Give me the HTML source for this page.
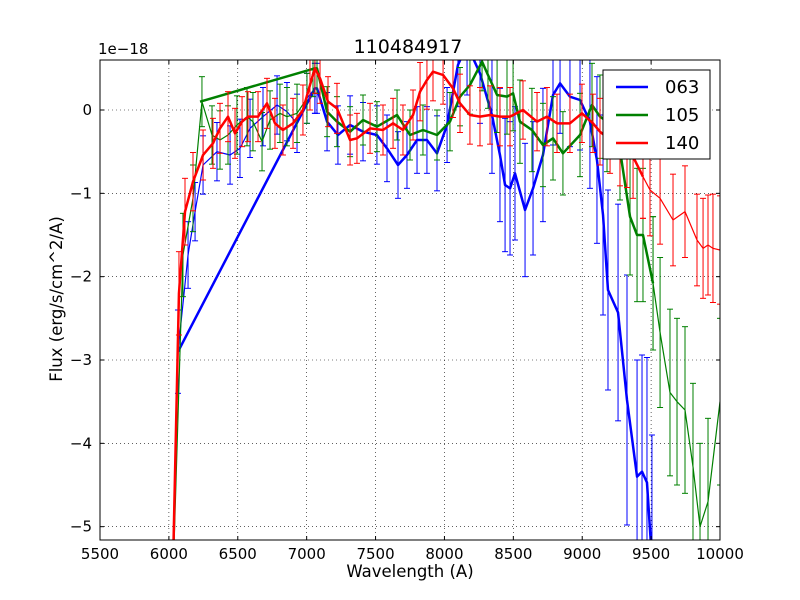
<!DOCTYPE html>
<html><head><meta charset="utf-8"><style>
html,body{margin:0;padding:0;background:#fff;overflow:hidden;width:800px;height:600px;}
svg{display:block;}
svg text{font-family:"DejaVu Sans","Liberation Sans",sans-serif;}
</style></head><body>
<svg id="chart" width="800" height="600" xmlns="http://www.w3.org/2000/svg">
<rect width="800" height="600" fill="#fff"/>
<defs><clipPath id="clip"><rect x="100" y="60" width="620" height="480"/></clipPath></defs>
<g id="grid"></g>
<g id="marks" clip-path="url(#clip)"></g>
<rect x="100" y="60" width="620" height="480" fill="none" stroke="#000" stroke-width="1"/>
<g id="ticks"></g>
<text x="408" y="53" font-size="19" text-anchor="middle">110484917</text>
<text x="98" y="54" font-size="15">1e−18</text>
<text x="410" y="577" font-size="16.5" text-anchor="middle">Wavelength (A)</text>
<text x="62" y="299" font-size="16.5" text-anchor="middle" transform="rotate(-90 62 299)">Flux (erg/s/cm^2/A)</text>
<g>
<rect x="603" y="70" width="107" height="89" fill="#fff" stroke="#000" stroke-width="1"/>
<g><line x1="616" y1="87" x2="648" y2="87" stroke="#0000ff" stroke-width="2.5"/><text x="665" y="93" font-size="18">063</text></g>
<g><line x1="616" y1="115" x2="648" y2="115" stroke="#008000" stroke-width="2.5"/><text x="665" y="121" font-size="18">105</text></g>
<g><line x1="616" y1="143" x2="648" y2="143" stroke="#ff0000" stroke-width="2.5"/><text x="665" y="149" font-size="18">140</text></g>
</g>
</svg>
<script>
const xTicks=[5500,6000,6500,7000,7500,8000,8500,9000,9500,10000];
const yTicks=[0,-1,-2,-3,-4,-5];
const yTickLabels=["0","−1","−2","−3","−4","−5"];

const blueThinX=[6023,6066,6139,6190,6248,6349,6444,6516,6589,6683,6785,6857,6930,7002,7060];
const blueThinY=[-6,-2.9,-1.74,-1.22,-0.66,-0.5,-0.54,-0.46,-0.22,-0.08,0.06,-0.02,-0.16,0.14,0.26];
const blueThinE=[0.5,0.5,0.4,0.35,0.35,0.35,0.35,0.35,0.35,0.35,0.35,0.35,0.35,0.3,0.3];
const blueThickX=[6066,7060,7075,7148,7227,7315,7409,7510,7583,7663,7728,7801,7873,7946,8019,8098,8164,8258,8345,8403,8440,8476,8512,8585,8643,8715,8788,8839,8911,8984,9056,9107,9151,9187,9260,9325,9398,9434,9470,9506];
const blueThickY=[-2.9,0.26,0.26,-0.14,-0.3,-0.18,-0.26,-0.3,-0.46,-0.66,-0.54,-0.36,-0.36,-0.52,-0.18,0.54,0.78,0.44,-0.06,-0.54,-0.9,-0.94,-0.76,-1.2,-0.94,-0.54,0.18,0.32,0.16,0.12,-0.14,-0.6,-1.26,-2.16,-2.43,-3.48,-4.4,-4.34,-4.47,-5.4];
const blueThickE=[0,0.3,0.3,0.35,0.35,0.35,0.35,0.35,0.4,0.4,0.4,0.4,0.4,0.45,0.45,0.5,0.6,0.6,0.7,0.8,0.8,0.8,0.8,0.8,0.8,0.8,0.6,0.6,0.6,0.6,0.8,1.0,1.2,1.2,1.3,1.5,1.4,1.4,1.5,1.5];

const greenThinX=[6023,6102,6175,6240,6313,6371,6429,6494,6567,6610,6676,6734,6806,6857,6930,7002,7046];
const greenThinY=[-6,-1.74,-1.06,0.1,-0.3,-0.36,-0.3,-0.18,-0.08,-0.14,-0.38,-0.12,-0.04,-0.08,-0.04,0.14,0.46];
const greenThinE=[0.5,0.5,0.4,0.3,0.35,0.35,0.35,0.35,0.35,0.35,0.35,0.35,0.35,0.35,0.35,0.3,0.3];
const greenThickX=[6226,7060,7075,7148,7220,7315,7409,7510,7656,7750,7844,7946,8040,8113,8185,8273,8316,8382,8454,8498,8548,8635,8715,8788,8860,8984,9071,9129,9180,9274,9347,9398,9441,9514];
const greenThickY=[0.1,0.5,0.5,-0.02,-0.14,-0.26,-0.12,-0.2,-0.06,-0.3,-0.24,-0.3,-0.14,0.16,0.3,0.58,0.42,0.18,0.16,0.2,-0.14,-0.24,-0.42,-0.34,-0.52,-0.3,0.06,-0.08,-0.14,-0.48,-1.28,-1.5,-1.5,-2.08];
const greenThickE=[0,0.3,0.3,0.3,0.3,0.3,0.3,0.3,0.3,0.3,0.3,0.3,0.35,0.35,0.35,0.35,0.4,0.45,0.45,0.45,0.5,0.5,0.5,0.5,0.5,0.5,0.5,0.5,0.6,0.6,0.7,0.8,0.8,0.8];
const greenTailX=[9514,9565,9637,9688,9746,9804,9855,9913,10000];
const greenTailY=[-2.08,-2.67,-3.39,-3.5,-3.6,-4.28,-5.0,-4.7,-3.5];
const greenTailE=[0.8,0.9,1.0,1.0,1.0,1.0,1.0,1.0,1.0];

const redThickX=[6023,6073,6117,6175,6248,6320,6371,6429,6480,6531,6574,6647,6712,6770,6828,6901,6973,7024,7060,7097,7155,7220,7315,7365,7460,7554,7627,7699,7772,7823,7873,7917,7990,8062,8113,8185,8258,8331,8403,8476,8570,8672,8744,8817,8911,8998,9078,9129,9202,9274,9325,9369,9441];
const redThickY=[-6,-2.2,-1.22,-0.86,-0.54,-0.4,-0.22,-0.08,-0.28,-0.14,-0.08,-0.08,0.08,-0.16,-0.24,-0.16,0,0.3,0.5,0.38,0.1,0.02,-0.36,-0.34,-0.22,-0.24,-0.16,-0.24,-0.06,0.22,0.36,0.46,0.42,0.26,0.08,-0.06,-0.08,-0.06,-0.08,-0.08,0,-0.14,-0.08,-0.16,-0.16,-0.04,-0.16,-0.26,-0.36,-0.46,-0.48,-0.56,-0.8];
const redThickE=[0.5,0.5,0.4,0.35,0.3,0.3,0.3,0.3,0.3,0.3,0.3,0.3,0.3,0.3,0.3,0.3,0.3,0.3,0.3,0.3,0.3,0.3,0.3,0.3,0.3,0.3,0.3,0.3,0.3,0.35,0.35,0.35,0.35,0.35,0.35,0.35,0.35,0.35,0.35,0.35,0.35,0.35,0.35,0.35,0.35,0.35,0.35,0.4,0.4,0.45,0.45,0.5,0.5];
const redTailX=[9441,9492,9565,9659,9746,9833,9877,9913,9949,10000];
const redTailY=[-0.8,-0.96,-1.06,-1.32,-1.22,-1.56,-1.66,-1.62,-1.66,-1.68];
const redTailE=[0.5,0.55,0.55,0.55,0.55,0.55,0.6,0.6,0.65,0.65];

const NS="http://www.w3.org/2000/svg";
const X0=100,X1=720,Y0=60,Y1=540,XMIN=5500,XMAX=10000,YMIN=-5.16,YMAX=0.6;
function sx(v){return X0+(v-XMIN)/(XMAX-XMIN)*(X1-X0);}
function sy(v){return Y1-(v-YMIN)/(YMAX-YMIN)*(Y1-Y0);}
function mk(tag,attrs,parent){const e=document.createElementNS(NS,tag);for(const k in attrs)e.setAttribute(k,attrs[k]);parent.appendChild(e);return e;}

const grid=document.getElementById('grid'),ticks=document.getElementById('ticks'),marks=document.getElementById('marks');
xTicks.forEach(function(t){
  const x=sx(t);
  const g=mk('line',{x1:x,y1:Y0,x2:x,y2:Y1,stroke:'#000','stroke-width':0.6,'stroke-dasharray':'1,3'},grid);
  
  
  mk('line',{x1:x,y1:Y1,x2:x,y2:Y1-4,stroke:'#000'},ticks);
  mk('line',{x1:x,y1:Y0,x2:x,y2:Y0+4,stroke:'#000'},ticks);
  const tx=mk('text',{x:x,y:Y1+19,'font-size':15,'text-anchor':'middle'},ticks);
  tx.textContent=t;
  
  
});
yTicks.forEach(function(t,i){
  const y=sy(t);
  const g=mk('line',{x1:X0,y1:y,x2:X1,y2:y,stroke:'#000','stroke-width':0.6,'stroke-dasharray':'1,3'},grid);
  
  
  mk('line',{x1:X0,y1:y,x2:X0+4,y2:y,stroke:'#000'},ticks);
  mk('line',{x1:X1,y1:y,x2:X1-4,y2:y,stroke:'#000'},ticks);
  const tx=mk('text',{x:X0-8,y:y+5,'font-size':15,'text-anchor':'end'},ticks);
  tx.textContent=yTickLabels[i];
  
  
});

function series(name,xs,ys,es,color,lw){
  const g=mk('g',{},marks);
  
  
  xs.forEach(function(xv,i){
    const e=es[i];if(!e)return;
    const x=sx(xv),ya=sy(ys[i]+e),yb=sy(ys[i]-e);
    mk('line',{x1:x,y1:ya,x2:x,y2:yb,stroke:color,'stroke-width':1},g);
    mk('line',{x1:x-3,y1:ya,x2:x+3,y2:ya,stroke:color,'stroke-width':1},g);
    mk('line',{x1:x-3,y1:yb,x2:x+3,y2:yb,stroke:color,'stroke-width':1},g);
  });
  const pts=xs.map(function(xv,i){return sx(xv)+','+sy(ys[i]);}).join(' ');
  const pl=mk('polyline',{points:pts,fill:'none',stroke:color,'stroke-width':lw,'stroke-linejoin':'round'},g);
  
  
}
series('series-063-early',blueThinX,blueThinY,blueThinE,'#0000ff',1.2);
series('series-063',blueThickX,blueThickY,blueThickE,'#0000ff',2.5);
series('series-105-early',greenThinX,greenThinY,greenThinE,'#008000',1.2);
series('series-105',greenThickX,greenThickY,greenThickE,'#008000',2.5);
series('series-105-tail',greenTailX,greenTailY,greenTailE,'#008000',1.2);
series('series-140',redThickX,redThickY,redThickE,'#ff0000',2.5);
series('series-140-tail',redTailX,redTailY,redTailE,'#ff0000',1.2);
</script>
</body></html>
